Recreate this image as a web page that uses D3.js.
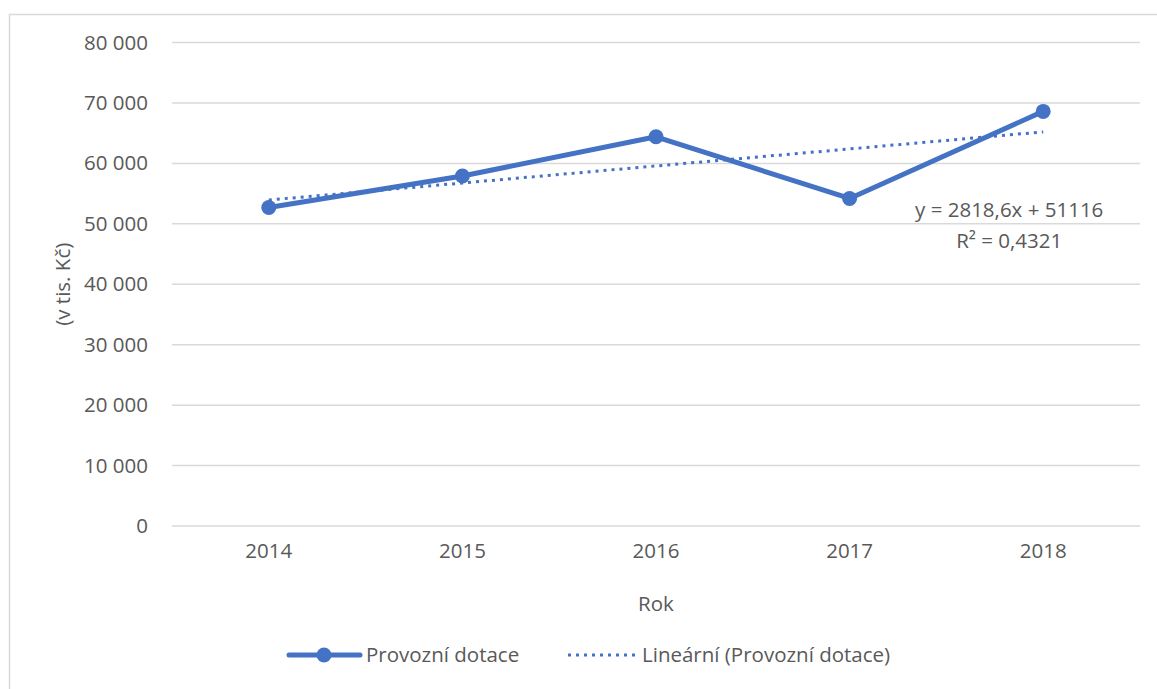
<!DOCTYPE html>
<html>
<head>
<meta charset="utf-8">
<script src="https://cdn.jsdelivr.net/npm/d3@7"></script>
<style>
  body { margin: 0; background: #fff; }
  text { font-family: "Open Sans", sans-serif; fill: #595959; }
</style>
</head>
<body>
<div id="chart"></div>
<script>
// data
var years = ["2014", "2015", "2016", "2017", "2018"];
var dotace = [52700, 57900, 64400, 54200, 68600];
var yTicks = [0, 10000, 20000, 30000, 40000, 50000, 60000, 70000, 80000];
// trend line as printed on the chart
var trendSlope = 2818.6;
var trendIntercept = 51116;
var trendText = ["y = 2818,6x + 51116", "R² = 0,4321"];

var W = 1157, H = 689;
var margin = { top: 42.5, right: 17, bottom: 163, left: 172 };
var width = W - margin.left - margin.right;
var height = H - margin.top - margin.bottom;
var blue = "#4472C4";
var fs = "20.5px";

var cz = d3.formatLocale({ decimal: ",", thousands: " ", grouping: [3], currency: ["", ""] });
var fmt = cz.format(",");

var svg = d3.select("#chart").append("svg")
  .attr("width", W)
  .attr("height", H);

// chart area border (only top and left visible)
svg.append("rect")
  .attr("x", 9.5).attr("y", 14.5)
  .attr("width", W + 20).attr("height", H + 20)
  .attr("fill", "none")
  .attr("stroke", "#d9d9d9")
  .attr("stroke-width", 1.5);

var g = svg.append("g")
  .attr("transform", "translate(" + margin.left + "," + margin.top + ")");

var x = d3.scaleBand().domain(years).range([0, width]);
var y = d3.scaleLinear().domain([0, 80000]).range([height, 0]);

// gridlines
g.append("g")
  .selectAll("line")
  .data(yTicks)
  .enter().append("line")
    .attr("x1", 0).attr("x2", width)
    .attr("y1", function(d) { return y(d); })
    .attr("y2", function(d) { return y(d); })
    .attr("stroke", "#d9d9d9")
    .attr("stroke-width", 1.5);

// y axis labels
var yAxis = g.append("g")
  .call(d3.axisLeft(y).tickValues(yTicks).tickFormat(fmt).tickSize(0).tickPadding(24));
yAxis.select(".domain").remove();
yAxis.selectAll("text").style("font-size", fs).attr("fill", "#595959");

// x axis labels
var xAxis = g.append("g")
  .attr("transform", "translate(0," + height + ")")
  .call(d3.axisBottom(x).tickSize(0).tickPadding(17));
xAxis.select(".domain").remove();
xAxis.selectAll("text").style("font-size", fs).attr("fill", "#595959");

// axis titles
g.append("text")
  .attr("x", width / 2)
  .attr("y", height + 85)
  .attr("text-anchor", "middle")
  .style("font-size", fs)
  .text("Rok");

svg.append("text")
  .attr("transform", "translate(70," + (margin.top + height / 2) + ") rotate(-90)")
  .attr("text-anchor", "middle")
  .style("font-size", fs)
  .text("(v tis. Kč)");

var cx = function(i) { return x(years[i]) + x.bandwidth() / 2; };

// trend line
var trend = years.map(function(d, i) { return trendSlope * (i + 1) + trendIntercept; });
g.append("path")
  .datum(trend)
  .attr("fill", "none")
  .attr("stroke", blue)
  .attr("stroke-width", 3)
  .attr("stroke-dasharray", "3 5")
  .attr("d", d3.line().x(function(d, i) { return cx(i); }).y(function(d) { return y(d); }));

// main series
g.append("path")
  .datum(dotace)
  .attr("fill", "none")
  .attr("stroke", blue)
  .attr("stroke-width", 5)
  .attr("stroke-linejoin", "round")
  .attr("d", d3.line().x(function(d, i) { return cx(i); }).y(function(d) { return y(d); }));

g.selectAll(".pt")
  .data(dotace)
  .enter().append("circle")
    .attr("class", "pt")
    .attr("cx", function(d, i) { return cx(i); })
    .attr("cy", function(d) { return y(d); })
    .attr("r", 7.5)
    .attr("fill", blue);

// trend equation
g.selectAll(".eq")
  .data(trendText)
  .enter().append("text")
    .attr("class", "eq")
    .attr("x", cx(4) - 34)
    .attr("y", function(d, i) { return y(trend[4]) + 85 + i * 31; })
    .attr("text-anchor", "middle")
    .style("font-size", fs)
    .text(function(d) { return d; });

// legend
var leg = svg.append("g").attr("transform", "translate(0,655)");
leg.append("line")
  .attr("x1", 289).attr("x2", 360).attr("y1", 0).attr("y2", 0)
  .attr("stroke", blue).attr("stroke-width", 5).attr("stroke-linecap", "round");
leg.append("circle").attr("cx", 324).attr("cy", 0).attr("r", 7.5).attr("fill", blue);
leg.append("text").attr("x", 366).attr("y", 7).style("font-size", fs).text("Provozní dotace");

leg.append("line")
  .attr("x1", 568).attr("x2", 637).attr("y1", 0).attr("y2", 0)
  .attr("stroke", blue).attr("stroke-width", 3).attr("stroke-dasharray", "3 5");
leg.append("text").attr("x", 642).attr("y", 7).style("font-size", fs).text("Lineární (Provozní dotace)");
</script>
</body>
</html>
